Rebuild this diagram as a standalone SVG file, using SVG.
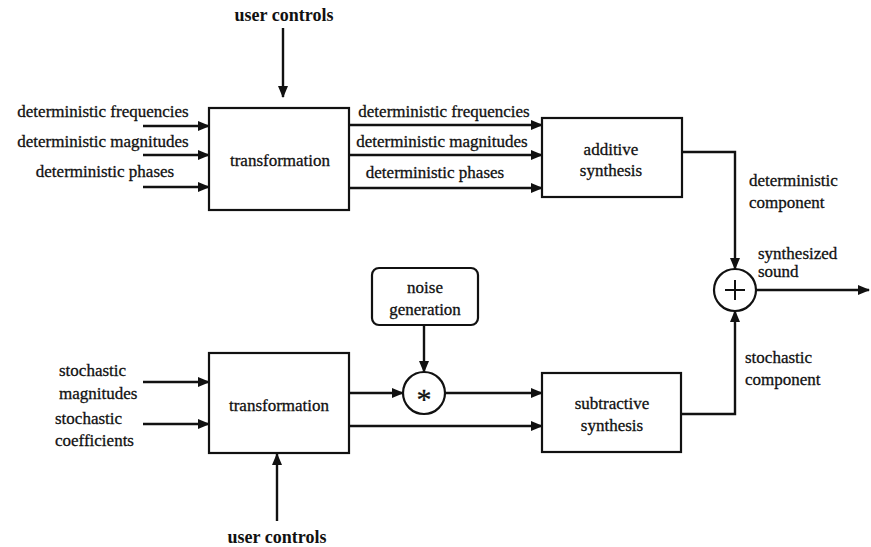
<svg xmlns="http://www.w3.org/2000/svg" width="871" height="547" viewBox="0 0 871 547">
  <style>
    .box { fill: #fff; stroke: #111; stroke-width: 2.2; }
    .lbl { font-size: 17px; fill: #111; stroke: #111; stroke-width: 0.3; }
    .ctr { text-anchor: middle; }
    .bold { font-weight: bold; stroke: none; font-size: 18px; }
    .wire { fill: none; stroke: #111; stroke-width: 2.4; }
  </style>
  <defs>
    <marker id="arrow" viewBox="0 0 12 10" refX="11" refY="5" markerWidth="12" markerHeight="10" markerUnits="userSpaceOnUse" orient="auto">
      <path d="M0,0 L12,5 L0,10 Z" fill="#111"/>
    </marker>
  </defs>
  <rect width="871" height="547" fill="#fff"/>

  <!-- connectors -->
  <g id="connectors" class="wire" marker-end="url(#arrow)">
    <!-- upper branch -->
    <line x1="283" y1="28" x2="283" y2="97"/>
    <line x1="143" y1="126" x2="209" y2="126"/>
    <line x1="143" y1="155" x2="209" y2="155"/>
    <line x1="143" y1="187" x2="209" y2="187"/>
    <line x1="349" y1="125" x2="542" y2="125"/>
    <line x1="349" y1="155" x2="542" y2="155"/>
    <line x1="349" y1="188" x2="542" y2="188"/>
    <polyline points="682,152 735,152 735,269"/>
    <line x1="756" y1="290" x2="869" y2="290"/>
    <!-- lower branch -->
    <line x1="143" y1="382" x2="209" y2="382"/>
    <line x1="143" y1="424" x2="209" y2="424"/>
    <line x1="277" y1="521" x2="277" y2="454"/>
    <line x1="424" y1="326" x2="424" y2="372"/>
    <line x1="349" y1="393" x2="403" y2="393"/>
    <line x1="445" y1="393" x2="542" y2="393"/>
    <line x1="349" y1="426" x2="542" y2="426"/>
    <polyline points="681,414 735,414 735,311"/>
  </g>

  <g font-family="Liberation Serif, Times New Roman, serif">
  <!-- input labels, upper -->
  <g id="upper-inputs">
    <text class="lbl ctr" x="103" y="117">deterministic frequencies</text>
    <text class="lbl ctr" x="103" y="147">deterministic magnitudes</text>
    <text class="lbl ctr" x="105" y="177">deterministic phases</text>
  </g>
  <g id="upper-controls">
    <text class="lbl ctr bold" x="284" y="21">user controls</text>
  </g>

  <g id="transform-upper">
    <rect class="box" x="209" y="108" width="140" height="102"/>
    <text class="lbl ctr" x="280" y="166">transformation</text>
  </g>

  <g id="upper-outputs">
    <text class="lbl ctr" x="444" y="117">deterministic frequencies</text>
    <text class="lbl ctr" x="442" y="147">deterministic magnitudes</text>
    <text class="lbl ctr" x="435" y="178">deterministic phases</text>
  </g>

  <g id="additive">
    <rect class="box" x="542" y="118" width="140" height="79"/>
    <text class="lbl ctr" x="611" y="155">additive</text>
    <text class="lbl ctr" x="611" y="176">synthesis</text>
  </g>

  <g id="det-component">
    <text class="lbl" x="749" y="186">deterministic</text>
    <text class="lbl" x="749" y="208">component</text>
  </g>

  <g id="sum">
    <circle class="box" cx="735" cy="290" r="21"/>
    <line x1="725" y1="290" x2="745" y2="290" stroke="#111" stroke-width="2"/>
    <line x1="735" y1="280" x2="735" y2="300" stroke="#111" stroke-width="2"/>
  </g>

  <g id="output">
    <text class="lbl" x="758" y="259">synthesized</text>
    <text class="lbl" x="758" y="277">sound</text>
  </g>

  <!-- lower branch -->
  <g id="lower-inputs">
    <text class="lbl" x="59" y="376">stochastic</text>
    <text class="lbl" x="59" y="399">magnitudes</text>
    <text class="lbl" x="55" y="424">stochastic</text>
    <text class="lbl" x="55" y="446">coefficients</text>
  </g>

  <g id="transform-lower">
    <rect class="box" x="209" y="353" width="140" height="100"/>
    <text class="lbl ctr" x="279" y="411">transformation</text>
  </g>

  <g id="lower-controls">
    <text class="lbl ctr bold" x="277" y="543">user controls</text>
  </g>

  <g id="noise">
    <rect class="box" x="372" y="268" width="106" height="57" rx="7" ry="7"/>
    <text class="lbl ctr" x="425" y="293">noise</text>
    <text class="lbl ctr" x="425" y="315">generation</text>
  </g>

  <g id="multiply">
    <circle class="box" cx="424" cy="393" r="21"/>
    <text class="lbl ctr" x="424" y="409" style="font-size:30px">*</text>
  </g>

  <g id="subtractive">
    <rect class="box" x="542" y="373" width="139" height="79"/>
    <text class="lbl ctr" x="612" y="409">subtractive</text>
    <text class="lbl ctr" x="612" y="431">synthesis</text>
  </g>

  <g id="sto-component">
    <text class="lbl" x="745" y="363">stochastic</text>
    <text class="lbl" x="745" y="385">component</text>
  </g>
  </g>
</svg>
